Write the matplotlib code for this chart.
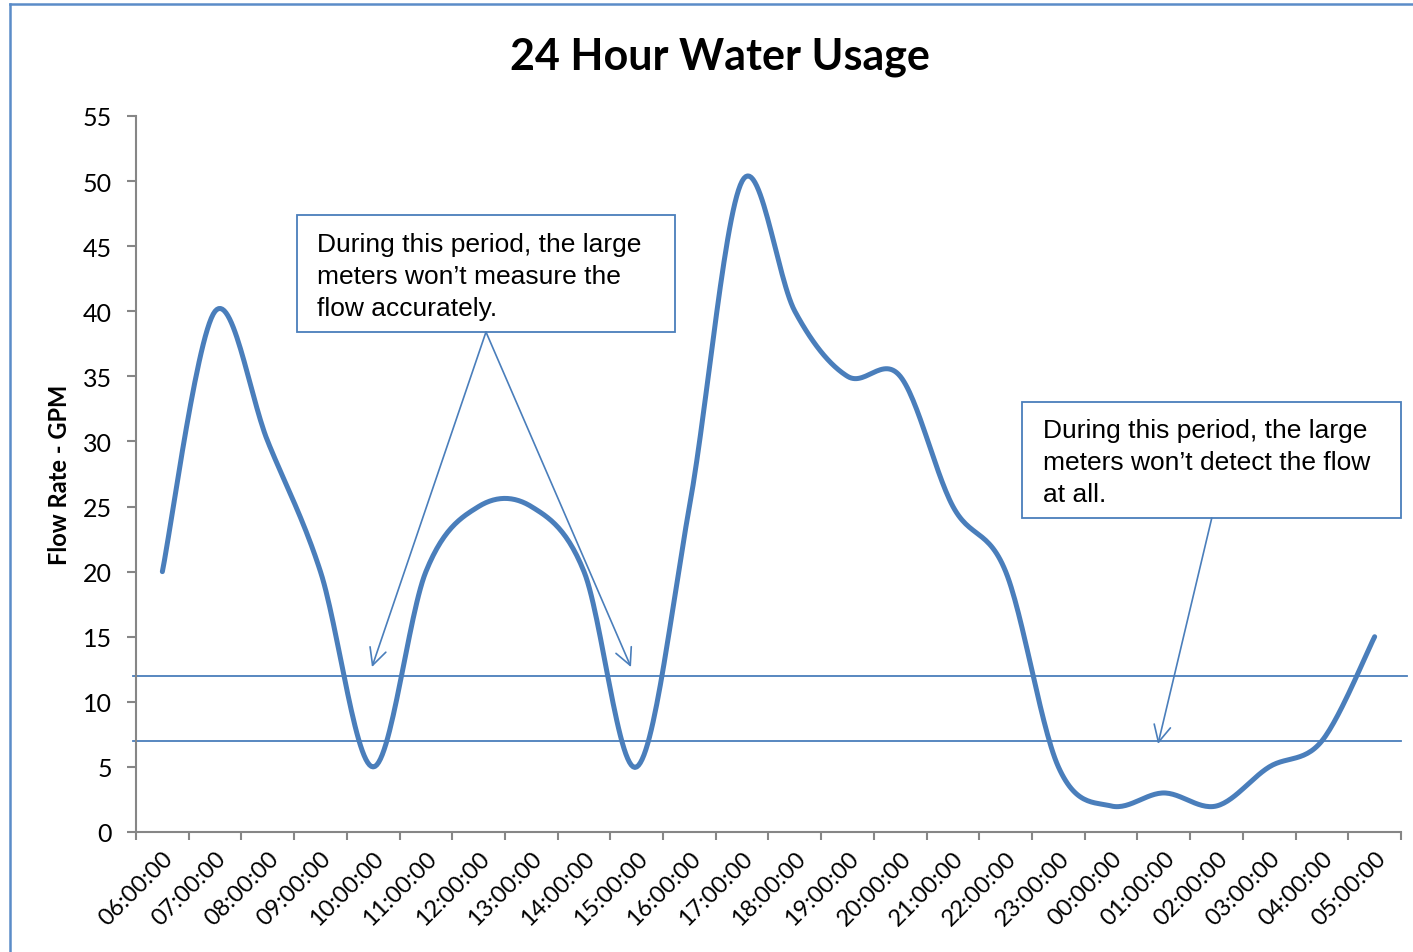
import numpy as np
import matplotlib
matplotlib.use("Agg")
import matplotlib.pyplot as plt
from matplotlib.patches import Rectangle
from matplotlib.lines import Line2D
import matplotlib.transforms as mtransforms

# ---- data ----
hours = ["06:00:00", "07:00:00", "08:00:00", "09:00:00", "10:00:00", "11:00:00",
         "12:00:00", "13:00:00", "14:00:00", "15:00:00", "16:00:00", "17:00:00",
         "18:00:00", "19:00:00", "20:00:00", "21:00:00", "22:00:00", "23:00:00",
         "00:00:00", "01:00:00", "02:00:00", "03:00:00", "04:00:00", "05:00:00"]
flow = [20, 40, 30, 20, 5, 20, 25, 25, 20, 5, 25, 50,
        40, 35, 35, 25, 20, 5, 2, 3, 2, 5, 7, 15]
thresholds = [12, 7]
yticks = list(range(0, 56, 5))
note1 = "During this period, the large\nmeters won\u2019t measure the\nflow accurately."
note2 = "During this period, the large\nmeters won\u2019t detect the flow\nat all."

BLUE = "#4A7EBB"
GRAY = "#868686"

def smooth(xs, ys, n=30):
    # Excel-like smoothed line (Catmull-Rom style Bezier)
    xs = np.asarray(xs, float); ys = np.asarray(ys, float)
    P = np.column_stack([xs, ys])
    out = []
    m = len(P)
    for i in range(m - 1):
        p0 = P[i - 1] if i > 0 else P[i]
        p1 = P[i]; p2 = P[i + 1]
        p3 = P[i + 2] if i + 2 < m else P[i + 1]
        c1 = p1 + (p2 - p0) / 6.0
        c2 = p2 - (p3 - p1) / 6.0
        t = np.linspace(0, 1, n)[:, None]
        seg = ((1 - t) ** 3) * p1 + 3 * ((1 - t) ** 2) * t * c1 + 3 * (1 - t) * t ** 2 * c2 + t ** 3 * p2
        out.append(seg if i == 0 else seg[1:])
    out = np.vstack(out)
    return out[:, 0], out[:, 1]

fig = plt.figure(figsize=(14.13, 9.53), dpi=100)
ax = fig.add_axes([136 / 1413, 1 - 833 / 953, 1265 / 1413, 716 / 953])

x = np.arange(len(flow))
sx, sy = smooth(x, flow)
ax.plot(sx, sy, color=BLUE, lw=3.6, solid_capstyle="round", zorder=3)

for t, xm in zip(thresholds, [1.005, 1.0]):
    ax.axhline(t, xmin=-0.002, xmax=xm, color=BLUE, lw=1.3, clip_on=False, zorder=2)

ax.set_xlim(-0.5, len(flow) - 0.5)
ax.set_ylim(0, 55)
ax.set_yticks(yticks)
ax.set_yticklabels([str(v) for v in yticks], family="Lato", fontsize=18)
ax.set_xticks(x)
ax.set_xticklabels(hours, rotation=45, ha="right", va="top", rotation_mode="anchor",
                   family="Lato", fontsize=17)
shift = mtransforms.ScaledTranslation(-4 / 100, -1 / 100, fig.dpi_scale_trans)
for lab in ax.get_xticklabels():
    lab.set_transform(lab.get_transform() + shift)
ax.set_xticks(np.arange(-0.5, len(flow), 1), minor=True)
ax.tick_params(axis="x", which="major", length=0, pad=11)
ax.tick_params(axis="x", which="minor", length=6, color=GRAY, width=1.5)
ax.tick_params(axis="y", length=6.5, color=GRAY, width=1.5, pad=11)
for s in ["top", "right"]:
    ax.spines[s].set_visible(False)
for s in ["left", "bottom"]:
    ax.spines[s].set_color(GRAY)
    ax.spines[s].set_linewidth(1.5)

ax.set_ylabel("Flow Rate - GPM", family="Lato", fontweight="bold", fontsize=17, labelpad=8)
fig.text(720 / 1413, 1 - 57 / 953, "24 Hour Water Usage", ha="center", va="center",
         family="Lato", fontweight="bold", fontsize=31)

# annotation boxes
ax.add_patch(Rectangle((2.554, 38.41), 9.726 - 2.554, 47.40 - 38.41, fill=True, fc="white",
                       ec=BLUE, lw=1.3, zorder=4))
ax.text(2.934, 46.1, note1, ha="left", va="top", family="Liberation Sans", fontsize=19,
        linespacing=1.43, zorder=5)
ax.add_patch(Rectangle((16.31, 24.12), 23.5 - 16.31, 33.03 - 24.12, fill=True, fc="white",
                       ec=BLUE, lw=1.3, zorder=4, clip_on=False))
ax.text(16.707, 31.8, note2, ha="left", va="top", family="Liberation Sans", fontsize=19,
        linespacing=1.43, zorder=5)

arrow_kw = dict(arrowstyle="->,head_length=1.2,head_width=0.6", color=BLUE, lw=1.2,
                shrinkA=0, shrinkB=0)
ax.annotate("", xy=(3.977, 12.67), xytext=(6.14, 38.41), arrowprops=arrow_kw, zorder=6)
ax.annotate("", xy=(8.891, 12.67), xytext=(6.14, 38.41), arrowprops=arrow_kw, zorder=6)
ax.annotate("", xy=(18.89, 6.76), xytext=(19.91, 24.12), arrowprops=arrow_kw, zorder=6)

# outer chart border
fig.add_artist(Line2D([10 / 1413, 10 / 1413], [0, 1 - 5 / 953], color="#5B8CC8", lw=1.8))
fig.add_artist(Line2D([10 / 1413, 1], [1 - 5 / 953, 1 - 5 / 953], color="#5B8CC8", lw=1.8))

fig.savefig("out.png", dpi=100)
